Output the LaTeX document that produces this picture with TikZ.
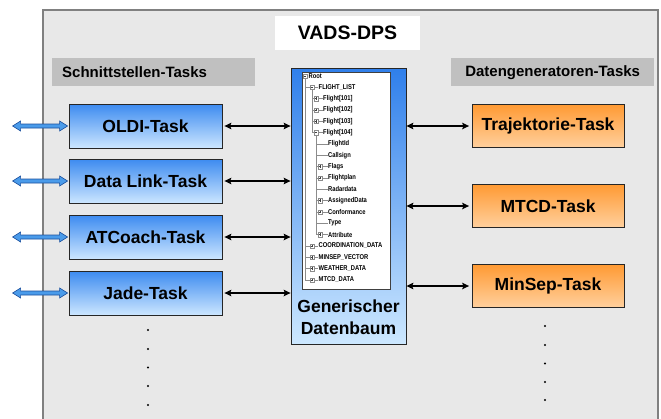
\documentclass[tikz,border=0pt]{standalone}
\usepackage{fontspec}
\setmainfont{Liberation Sans}
\usetikzlibrary{arrows.meta,calc}

\definecolor{taskblueT}{HTML}{3D8BF0}
\definecolor{taskblueB}{HTML}{CCE6FF}
\definecolor{taskorT}{HTML}{FF9A33}
\definecolor{taskorB}{HTML}{FFD09E}
\definecolor{dpsblueT}{HTML}{2F7FEB}
\definecolor{dpsblueB}{HTML}{CDE8FF}
\definecolor{panelgray}{HTML}{E8E8E8}
\definecolor{framegray}{HTML}{808080}
\definecolor{headgray}{HTML}{C0C0C0}
\definecolor{arrowblue}{HTML}{4A9BEA}
\definecolor{arrowline}{HTML}{1B4F9C}
\definecolor{treeline}{HTML}{8C8C8C}

% tree row helpers: y of row #1
\newcommand\rowy[1]{76+11.33*#1}
% collapsed / expanded icon at (x,y)
\newcommand\tricon[3]{%
  \draw[treeline, fill=white, line width=0.4pt] (#1-2.2,#2-2.2) rectangle (#1+2.2,#2+2.2);
  \draw[black!75, line width=0.45pt] (#1-1.3,#2) -- (#1+1.3,#2);
  \ifx#3c\draw[black!75, line width=0.45pt] (#1,#2-1.3) -- (#1,#2+1.3);\fi}
% outlined blue double arrow between two points
\newcommand\bluelink[2]{%
  \path[fill=arrowblue, draw=arrowline, line width=0.6pt, line join=miter]
    let \p1=(#1), \p2=(#2) in
    (\x1,\y1) -- (\x1+8pt,\y1+5pt) -- (\x1+8pt,\y1+2pt) -- (\x2-8pt,\y1+2pt)
    -- (\x2-8pt,\y1+5pt) -- (\x2,\y1) -- (\x2-8pt,\y1-5pt) -- (\x2-8pt,\y1-2pt)
    -- (\x1+8pt,\y1-2pt) -- (\x1+8pt,\y1-5pt) -- cycle;}

\begin{document}
\begin{tikzpicture}[x=1pt,y=-1pt,
  task/.style={draw=black!85, line width=0.8pt, minimum width=153pt,
    minimum height=44pt, inner sep=0pt,
    font=\fontsize{17.5}{20}\selectfont\bfseries},
  bluetask/.style={task, top color=taskblueT, bottom color=taskblueB},
  ortask/.style={task, minimum width=152pt, minimum height=43pt,
    top color=taskorT, bottom color=taskorB},
  headbar/.style={fill=headgray, minimum height=28pt, text width=183pt,
    inner xsep=10pt, inner ysep=0pt, anchor=north west,
    font=\fontsize{15}{17}\selectfont\bfseries},
  conn/.style={line width=1.6pt, {Stealth[length=7pt,width=6.5pt,inset=1.5pt]}-{Stealth[length=7pt,width=6.5pt,inset=1.5pt]}},
  treetxt/.style={anchor=west, inner sep=0pt, font=\fontsize{7}{8}\selectfont\bfseries},
  tline/.style={treeline, line width=0.55pt}
]
\useasboundingbox (0,0) rectangle (661,418);

% outer system frame
\draw[framegray, line width=1.5pt, fill=panelgray] (43,10) rectangle (658,430);

% title
\node[fill=white, minimum width=145pt, minimum height=34pt, inner sep=0pt,
  font=\fontsize{19.5}{22}\selectfont\bfseries] (title) at (347.5,33) {VADS-DPS};

% group headings
\node[headbar, align=left] (lhead) at (52,58) {Schnittstellen-Tasks};
\node[headbar, align=center] (rhead) at (451,58) {Datengeneratoren-Tasks};

% interface tasks
\node[bluetask] (oldi) at (145.5,126) {OLDI-Task};
\node[bluetask] (dlink) at (145.5,181) {Data Link-Task};
\node[bluetask] (atc) at (145.5,237) {ATCoach-Task};
\node[bluetask] (jade) at (145.5,293) {Jade-Task};

% data generator tasks
\node[ortask] (traj) at (548,126) {Trajektorie-Task};
\node[ortask] (mtcd) at (548,206) {MTCD-Task};
\node[ortask] (minsep) at (548,286) {MinSep-Task};

% generic data tree
\node[draw=black!85, line width=0.8pt, minimum width=115pt, minimum height=276pt,
  inner sep=0pt, top color=dpsblueT, bottom color=dpsblueB] (dps) at (348.5,206) {};
\node[draw=black!75, line width=0.6pt, fill=white, minimum width=88pt,
  minimum height=217pt, inner sep=0pt, anchor=north west] (tree) at (302,72) {};
\node[align=center, inner sep=0pt, font=\fontsize{17.5}{22}\selectfont\bfseries]
  (dpslabel) at (348.5,317) {Generischer\\Datenbaum};

% tree lines
\draw[tline] (305,{\rowy{0}+2}) -- (305,{\rowy{18}});
\draw[tline] (312,{\rowy{1}+2}) -- (312,{\rowy{5}});
\draw[tline] (316,{\rowy{5}+2}) -- (316,{\rowy{14}});
% level 1 stubs
\foreach \i in {1,15,16,17,18} \draw[tline] (305,{\rowy{\i}}) -- (318,{\rowy{\i}});
% level 2 stubs
\foreach \i in {2,3,4,5} \draw[tline] (312,{\rowy{\i}}) -- (322.5,{\rowy{\i}});
% level 3 stubs
\foreach \i in {6,7,8,9,10,11,12,13,14} \draw[tline] (316,{\rowy{\i}}) -- (327.5,{\rowy{\i}});
% root stub
\draw[tline] (305,{\rowy{0}}) -- (308,{\rowy{0}});

% icons
\tricon{305}{\rowy{0}}{e}
\tricon{312}{\rowy{1}}{e}
\foreach \i in {2,3,4} {\tricon{316}{\rowy{\i}}{c}}
\tricon{316}{\rowy{5}}{e}
\foreach \i in {8,9,11,12,14} {\tricon{320}{\rowy{\i}}{c}}
\foreach \i in {15,16,17,18} {\tricon{312}{\rowy{\i}}{c}}

% tree labels
\node[treetxt] (t0) at (308.5,{\rowy{0}}) {\scalebox{0.83}[1]{Root}};
\node[treetxt] (t1) at (318.5,{\rowy{1}}) {\scalebox{0.83}[1]{FLIGHT\_LIST}};
\node[treetxt] (t2) at (323,{\rowy{2}}) {\scalebox{0.83}[1]{Flight[101]}};
\node[treetxt] (t3) at (323,{\rowy{3}}) {\scalebox{0.83}[1]{Flight[102]}};
\node[treetxt] (t4) at (323,{\rowy{4}}) {\scalebox{0.83}[1]{Flight[103]}};
\node[treetxt] (t5) at (323,{\rowy{5}}) {\scalebox{0.83}[1]{Flight[104]}};
\node[treetxt] (t6) at (328,{\rowy{6}}) {\scalebox{0.83}[1]{FlightId}};
\node[treetxt] (t7) at (328,{\rowy{7}}) {\scalebox{0.83}[1]{Callsign}};
\node[treetxt] (t8) at (328,{\rowy{8}}) {\scalebox{0.83}[1]{Flags}};
\node[treetxt] (t9) at (328,{\rowy{9}}) {\scalebox{0.83}[1]{Flightplan}};
\node[treetxt] (t10) at (328,{\rowy{10}}) {\scalebox{0.83}[1]{Radardata}};
\node[treetxt] (t11) at (328,{\rowy{11}}) {\scalebox{0.83}[1]{AssignedData}};
\node[treetxt] (t12) at (328,{\rowy{12}}) {\scalebox{0.83}[1]{Conformance}};
\node[treetxt] (t13) at (328,{\rowy{13}}) {\scalebox{0.83}[1]{Type}};
\node[treetxt] (t14) at (328,{\rowy{14}}) {\scalebox{0.83}[1]{Attribute}};
\node[treetxt] (t15) at (318.5,{\rowy{15}}) {\scalebox{0.83}[1]{COORDINATION\_DATA}};
\node[treetxt] (t16) at (318.5,{\rowy{16}}) {\scalebox{0.83}[1]{MINSEP\_VECTOR}};
\node[treetxt] (t17) at (318.5,{\rowy{17}}) {\scalebox{0.83}[1]{WEATHER\_DATA}};
\node[treetxt] (t18) at (318.5,{\rowy{18}}) {\scalebox{0.83}[1]{MTCD\_DATA}};

% links between tasks and the data tree
\foreach \t in {oldi,dlink,atc,jade}
  \draw[conn, shorten <=2pt] (\t.east) -- (\t.east -| dps.west);
\foreach \t in {traj,mtcd,minsep}
  \draw[conn, shorten >=2.5pt] (\t.west -| dps.east) -- (\t.west);

% external interfaces
\foreach \t in {oldi,dlink,atc,jade} {
  \coordinate (\t-ext) at ($(\t.west)+(-56,0)$);
  \coordinate (\t-in) at ($(\t.west)+(-1,0)$);
  \bluelink{\t-ext}{\t-in}
}

% continuation dots
\foreach \y in {330,349,367.5,386,405} \fill (148,\y) circle (1.1pt);
\foreach \y in {326,345,363.5,382,400} \fill (545,\y) circle (1.1pt);
\end{tikzpicture}
\end{document}
